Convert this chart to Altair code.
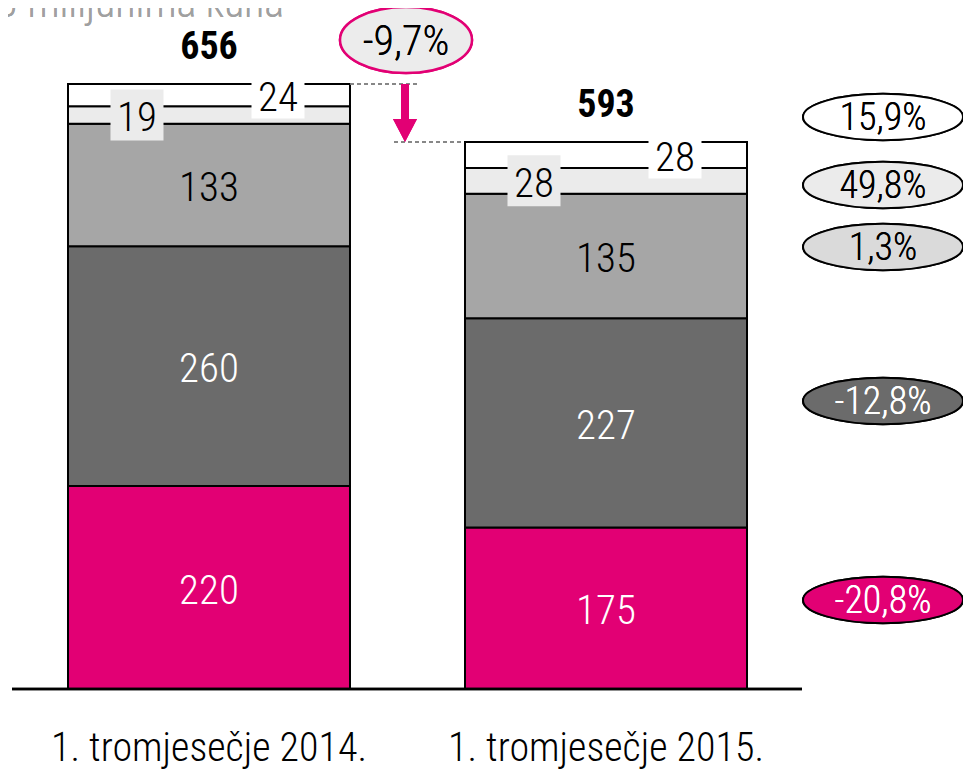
import altair as alt
import pandas as pd

# ---------------- data ----------------
quarters = ["1. tromjesečje 2014.", "1. tromjesečje 2015."]
segments = ["Segment 1", "Segment 2", "Segment 3", "Segment 4", "Segment 5"]  # bottom -> top
values_2014 = [220, 260, 133, 19, 24]
values_2015 = [175, 227, 135, 28, 28]
totals = [656, 593]
segment_changes = ["-20,8%", "-12,8%", "1,3%", "49,8%", "15,9%"]  # bottom -> top
total_change = "-9,7%"
title_text = "U milijunima kuna"

# ---------------- styles ----------------
FONT = "Roboto Condensed, Liberation Sans, sans-serif"
W = 300
MAGENTA = "#E20074"
seg_fill = ["#E20074", "#6B6B6B", "#A6A6A6", "#EBEBEB", "#FFFFFF"]
seg_text = ["white", "white", "black", "black", "black"]
ell_fill = ["#E20074", "#6B6B6B", "#DADADA", "#EBEBEB", "#FFFFFF"]
ell_text = ["white", "white", "black", "black", "black"]
ell_y_px = [592, 393, 239, 177, 109]  # annotation positions (pixels)
ELL_X = 875
ELL_W = 160

rows = []
for q, vals in zip(quarters, [values_2014, values_2015]):
    base = 0
    for i, (s, v) in enumerate(zip(segments, vals)):
        rows.append(dict(quarter=q, seg=s, value=v, y0=base, y1=base + v,
                         mid=base + v / 2, idx=i, txtcol=seg_text[i]))
        base += v
df = pd.DataFrame(rows)
tot_df = pd.DataFrame({"quarter": quarters, "total": totals})

X = alt.X("quarter:N", sort=quarters,
          scale=alt.Scale(range=[60, 739], paddingInner=0.2897, paddingOuter=0),
          axis=alt.Axis(title=None, domain=False, ticks=False, labelAngle=0,
                        labelFont=FONT, labelFontWeight=W, labelFontSize=40,
                        labelColor="black", labelPadding=39, labelLimit=0))
YSC = alt.Scale(domain=[0, 738.4], nice=False, zero=True)

base = alt.Chart(df)

bars = base.mark_bar(stroke="black", strokeWidth=2).encode(
    x=X,
    y=alt.Y("y0:Q", scale=YSC, axis=None),
    y2="y1:Q",
    fill=alt.Fill("seg:N", scale=alt.Scale(domain=segments, range=seg_fill), legend=None),
)

main_lbl = base.transform_filter(alt.datum.idx < 3).mark_text(
    font=FONT, fontWeight=W, fontSize=41, baseline="middle", dy=4).encode(
    x=X, y=alt.Y("mid:Q", scale=YSC),
    text="value:Q",
    color=alt.Color("txtcol:N", scale=None),
)

box4 = base.transform_filter(alt.datum.idx == 3).mark_point(
    shape="M-1,-0.962 L1,-0.962 L1,0.962 L-1,0.962 Z", size=2809, filled=True,
    fill="#EBEBEB", opacity=1, strokeWidth=0, xOffset=-72, yOffset=0).encode(
    x=X, y=alt.Y("mid:Q", scale=YSC))
box5 = base.transform_filter(alt.datum.idx == 4).mark_point(
    shape="M-1,-0.736 L1,-0.736 L1,0.736 L-1,0.736 Z", size=2809, filled=True,
    fill="#FFFFFF", opacity=1, strokeWidth=0, xOffset=69, yOffset=4).encode(
    x=X, y=alt.Y("mid:Q", scale=YSC))
txt4 = base.transform_filter(alt.datum.idx == 3).mark_text(
    font=FONT, fontWeight=W, fontSize=41, baseline="middle", color="black",
    xOffset=-72, dy=4).encode(
    x=X, y=alt.Y("mid:Q", scale=YSC), text="value:Q")
txt5 = base.transform_filter(alt.datum.idx == 4).mark_text(
    font=FONT, fontWeight=W, fontSize=41, baseline="middle", color="black",
    xOffset=69, dy=4).encode(
    x=X, y=alt.Y("mid:Q", scale=YSC), text="value:Q")

tot_lbl = alt.Chart(tot_df).mark_text(
    font=FONT, fontSize=38, fontWeight="bold", baseline="alphabetic", dy=-25,
    color="black").encode(x=X, y=alt.Y("total:Q", scale=YSC), text="total:Q")

baseline = alt.Chart(tot_df).mark_rule(color="black", strokeWidth=2.5).encode(
    x=alt.value(4), x2=alt.value(794), y=alt.datum(0))

dash1 = alt.Chart(tot_df).mark_rule(color="#808080", strokeWidth=1.5, strokeDash=[4, 3]).encode(
    x=alt.value(342), x2=alt.value(410), y=alt.datum(totals[0]))
dash2 = alt.Chart(tot_df).mark_rule(color="#808080", strokeWidth=1.5, strokeDash=[4, 3]).encode(
    x=alt.value(386), x2=alt.value(455), y=alt.datum(totals[1]))
shaft = alt.Chart(tot_df).mark_rule(color=MAGENTA, strokeWidth=8, y2Offset=-22).encode(
    x=alt.value(397), y=alt.datum(totals[0]), y2=alt.datum(totals[1]))
head = alt.Chart(tot_df).mark_point(
    shape="M-1,-0.96 L1,-0.96 L0,0.96 Z", size=576, filled=True, fill=MAGENTA,
    opacity=1, strokeWidth=0, yOffset=-11.5).encode(
    x=alt.value(397), y=alt.datum(totals[1]))

ELL = "M-1,0 A1,{r},0,1,0,1,0 A1,{r},0,1,0,-1,0 Z"
tc_ell = alt.Chart(tot_df).mark_point(
    shape=ELL.format(r=0.5), size=132 ** 2, filled=True, fill="#ECECEC",
    stroke=MAGENTA, strokeWidth=2.5, opacity=1).encode(
    x=alt.value(398), y=alt.value(32))
tc_txt = alt.Chart(tot_df).mark_text(
    font=FONT, fontWeight=W, fontSize=42, baseline="middle", color="black", dy=2).encode(
    x=alt.value(398), y=alt.value(32), text=alt.value(total_change))

layers = [bars, box4, box5, main_lbl, txt4, txt5, tot_lbl, baseline,
          dash1, dash2, shaft, head, tc_ell, tc_txt]

for i, ch in enumerate(segment_changes):
    layers.append(alt.Chart(tot_df).mark_point(
        shape=ELL.format(r=0.29), size=ELL_W ** 2, filled=True, fill=ell_fill[i],
        stroke="black", strokeWidth=2, opacity=1).encode(
        x=alt.value(ELL_X), y=alt.value(ell_y_px[i])))
    layers.append(alt.Chart(tot_df).mark_text(
        font=FONT, fontWeight=W, fontSize=38, baseline="middle", color=ell_text[i], dy=2).encode(
        x=alt.value(ELL_X), y=alt.value(ell_y_px[i]), text=alt.value(ch)))

title = alt.Chart(tot_df).mark_text(
    font=FONT, fontWeight=W, fontSize=42, align="left", baseline="alphabetic",
    color="#A0A0A0").encode(
    x=alt.value(-14), y=alt.value(9), text=alt.value(title_text))
layers.append(title)

chart = alt.layer(*layers).properties(
    width=955, height=681,
    background="white",
    autosize=alt.AutoSizeParams(type="none"),
    padding={"left": 0, "top": 0, "right": 0, "bottom": 80},
).configure_view(strokeWidth=0, stroke="transparent")

chart.save("out.html", embed_options={"renderer": "svg", "actions": False})
